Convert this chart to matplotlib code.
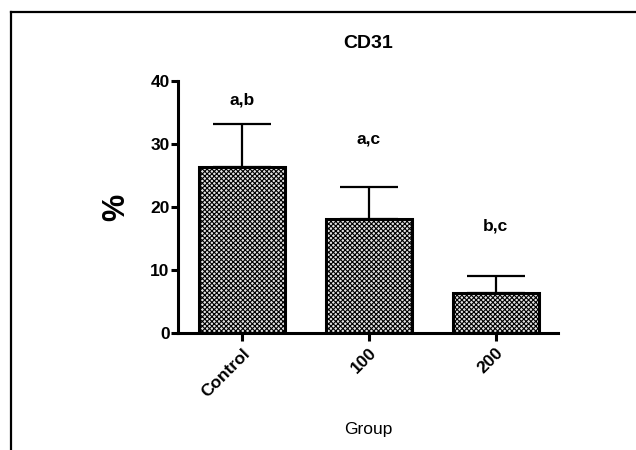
import numpy as np
import matplotlib.pyplot as plt
from matplotlib.lines import Line2D

plt.rcParams['font.family'] = ['Liberation Sans', 'DejaVu Sans']
plt.rcParams['hatch.linewidth'] = 0.8
plt.rcParams['hatch.color'] = '#4a4a4a'

# data
groups = ["Control", "100", "200"]
means = [26.3, 18.1, 6.3]
errors = [6.9, 5.0, 2.8]
letters = ["a,b", "a,c", "b,c"]
letter_y = [37.0, 30.8, 17.0]

fig = plt.figure(figsize=(6.36, 4.5), dpi=100)
ax = fig.add_axes([0.280, 0.26, 0.597, 0.56])

x = np.arange(len(groups))
ax.bar(x, means, width=0.68, color="#e4e4e4", edgecolor="black",
       linewidth=2.2, hatch="xxxxxxx", zorder=2)
ax.errorbar(x, means, yerr=[np.zeros(len(errors)), errors], fmt="none",
            ecolor="black", elinewidth=1.6, capsize=21, capthick=1.6, zorder=1)

for xi, lab, ly in zip(x, letters, letter_y):
    ax.text(xi, ly, lab, ha="center", va="center", fontsize=12.5, fontweight="bold")

ax.set_xlim(-0.504, 2.49)
ax.set_ylim(0, 40)
ax.set_yticks([0, 10, 20, 30, 40])
ax.set_xticks(x)
ax.set_xticklabels(groups, rotation=45, ha="right", rotation_mode="anchor")

for s in ["top", "right"]:
    ax.spines[s].set_visible(False)
for s in ["left", "bottom"]:
    ax.spines[s].set_linewidth(2.2)

ax.tick_params(axis="y", direction="out", width=2.2, length=5, pad=1, labelsize=12.5)
ax.tick_params(axis="x", direction="out", width=2.2, length=6, pad=3, labelsize=12.5)
for t in ax.get_xticklabels() + ax.get_yticklabels():
    t.set_fontweight("bold")

ax.set_title("CD31", fontsize=14, fontweight="bold", pad=24)
ax.set_ylabel("%", fontsize=22, fontweight="bold", labelpad=14)
ax.set_xlabel("Group", fontsize=12.5, labelpad=16)

# outer frame (left and top only)
fig.add_artist(Line2D([11 / 636, 11 / 636], [0, 1 - 12 / 450], color="black", linewidth=1.6))
fig.add_artist(Line2D([11 / 636, 1], [1 - 12 / 450, 1 - 12 / 450], color="black", linewidth=1.6))

fig.savefig("out.png", dpi=100)
